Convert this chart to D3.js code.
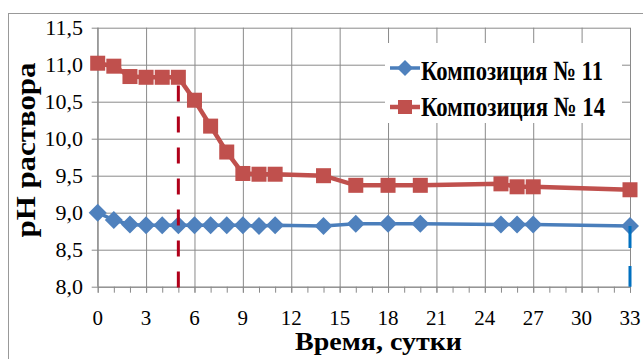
<!DOCTYPE html>
<html>
<head>
<meta charset="utf-8">
<script src="https://cdn.jsdelivr.net/npm/d3@7"></script>
<style>
  html, body { margin: 0; padding: 0; background: #fff; }
  svg { display: block; }
</style>
</head>
<body>
<svg id="chart" width="643" height="359" font-family="'Liberation Serif', 'Times New Roman', Times, serif"></svg>
<script>
// Time points, days
const days = [0, 1, 2, 3, 4, 5, 6, 7, 8, 9, 10, 11, 14, 16, 18, 20, 25, 26, 27, 33];
// pH of the solution, composition No. 11
const ph11 = [9.00, 8.90, 8.84, 8.83, 8.83, 8.83, 8.83, 8.83, 8.83, 8.83, 8.82, 8.83, 8.82, 8.85, 8.85, 8.85, 8.84, 8.84, 8.84, 8.82];
// pH of the solution, composition No. 14
const ph14 = [11.02, 10.98, 10.84, 10.83, 10.83, 10.83, 10.52, 10.17, 9.82, 9.53, 9.52, 9.52, 9.50, 9.37, 9.37, 9.37, 9.39, 9.35, 9.35, 9.31];
const seriesNames = ["Композиция № 11", "Композиция № 14"];
const xTicks = [0, 3, 6, 9, 12, 15, 18, 21, 24, 27, 30, 33];
const xMinor = d3.range(0, 34);
const yTicks = [8.0, 8.5, 9.0, 9.5, 10.0, 10.5, 11.0, 11.5];
// Dashed drop lines (day, pH where the line starts)
const dropRed = { day: 5, from: 10.72 };
const dropBlue = { day: 33, from: 8.82 };

const svg = d3.select("#chart");
const plotL = 97.7, plotR = 630, plotT = 27.7, plotB = 286.7;

const x = d3.scaleLinear().domain([0, 33]).range([plotL, plotR]);
const y = d3.scaleLinear().domain([8, 11.5]).range([plotB, plotT]);

const gridColor = "#8a8a8a";

// outer frame (top and left edges visible)
svg.append("rect")
  .attr("x", 8.5).attr("y", 13.5)
  .attr("width", 700).attr("height", 400)
  .attr("fill", "#fff").attr("stroke", "#999").attr("stroke-width", 1);

// horizontal gridlines + y ticks
const yAxis = svg.append("g")
  .attr("transform", `translate(${plotL},0)`)
  .call(d3.axisLeft(y).tickValues(yTicks).tickSizeOuter(0).tickFormat(""));
yAxis.select(".domain").remove();
yAxis.selectAll(".tick line").attr("x1", plotR - plotL).attr("x2", -6).attr("stroke", gridColor);

// vertical gridlines + x major ticks
const xAxis = svg.append("g")
  .attr("transform", `translate(0,${plotB})`)
  .call(d3.axisBottom(x).tickValues(xTicks).tickSizeOuter(0).tickFormat(""));
xAxis.select(".domain").remove();
xAxis.selectAll(".tick line").attr("y1", -(plotB - plotT)).attr("y2", 6).attr("stroke", gridColor);

// minor ticks on x axis
const xMinorAxis = svg.append("g")
  .attr("transform", `translate(0,${plotB})`)
  .call(d3.axisBottom(x).tickValues(xMinor).tickSize(6).tickSizeOuter(0).tickFormat(""));
xMinorAxis.select(".domain").attr("stroke", gridColor);
xMinorAxis.selectAll(".tick line").attr("stroke", gridColor);

// left axis line
svg.append("line")
  .attr("x1", plotL).attr("x2", plotL).attr("y1", plotT).attr("y2", plotB)
  .attr("stroke", gridColor);

// tick labels
const fmt = d3.format(".1f");
svg.append("g").selectAll("text").data(yTicks).join("text")
  .attr("x", 83).attr("y", d => y(d) + 7.5)
  .attr("text-anchor", "end")
  .attr("font-size", 22)
  .text(d => fmt(d).replace(".", ","));
svg.append("g").selectAll("text").data(xTicks).join("text")
  .attr("x", d => x(d)).attr("y", 325)
  .attr("text-anchor", "middle")
  .attr("font-size", 21)
  .text(d => d);

// legend box
const legend = svg.append("g");
legend.append("rect")
  .attr("x", 385).attr("y", 43).attr("width", 237).attr("height", 80)
  .attr("fill", "#fff");

const blue = "#4A7EBB", blueFill = "#4F81BD";
const red = "#C0504D", redFill = "#C0504D";

function diamondPath(s) {
  return `M0,${-s}L${s},0L0,${s}L${-s},0Z`;
}

// legend entries
legend.append("line").attr("x1", 390).attr("x2", 420).attr("y1", 68).attr("y2", 68)
  .attr("stroke", blue).attr("stroke-width", 3.5);
legend.append("path").attr("d", diamondPath(8)).attr("transform", "translate(405,68)").attr("fill", blueFill);
legend.append("text").attr("x", 421).attr("y", 80)
  .attr("font-size", 28).attr("font-weight", "bold")
  .attr("textLength", 182).attr("lengthAdjust", "spacingAndGlyphs")
  .text(seriesNames[0]);
legend.append("line").attr("x1", 390).attr("x2", 420).attr("y1", 107).attr("y2", 107)
  .attr("stroke", red).attr("stroke-width", 4.5);
legend.append("rect").attr("x", 398).attr("y", 100).attr("width", 14).attr("height", 14).attr("fill", redFill);
legend.append("text").attr("x", 421).attr("y", 116)
  .attr("font-size", 28).attr("font-weight", "bold")
  .attr("textLength", 184).attr("lengthAdjust", "spacingAndGlyphs")
  .text(seriesNames[1]);

// series lines
const lineGen = d3.line().x((d, i) => x(days[i])).y(d => y(d));
svg.append("path").datum(ph11).attr("d", lineGen)
  .attr("fill", "none").attr("stroke", blue).attr("stroke-width", 3.5);
svg.append("path").datum(ph14).attr("d", lineGen)
  .attr("fill", "none").attr("stroke", red).attr("stroke-width", 4.5);

// markers
svg.append("g").selectAll("path").data(ph11).join("path")
  .attr("d", diamondPath(9))
  .attr("transform", (d, i) => `translate(${x(days[i])},${y(d)})`)
  .attr("fill", blueFill);
svg.append("g").selectAll("rect").data(ph14).join("rect")
  .attr("x", (d, i) => x(days[i]) - 7.5).attr("y", d => y(d) - 7.5)
  .attr("width", 15).attr("height", 15)
  .attr("fill", redFill);

// dashed drop lines
svg.append("line")
  .attr("x1", x(dropRed.day)).attr("x2", x(dropRed.day))
  .attr("y1", y(dropRed.from)).attr("y2", y(8) + 3)
  .attr("stroke", "#B0001A").attr("stroke-width", 3)
  .attr("stroke-dasharray", "16,15");
svg.append("line")
  .attr("x1", x(dropBlue.day)).attr("x2", x(dropBlue.day))
  .attr("y1", y(dropBlue.from)).attr("y2", y(8))
  .attr("stroke", "#0070C0").attr("stroke-width", 3)
  .attr("stroke-dasharray", "22,18");

// axis titles
svg.append("text")
  .attr("x", 295).attr("y", 350)
  .attr("font-size", 26).attr("font-weight", "bold")
  .attr("textLength", 167).attr("lengthAdjust", "spacingAndGlyphs")
  .text("Время, сутки");
svg.append("text")
  .attr("transform", "translate(35,150) rotate(-90)")
  .attr("text-anchor", "middle")
  .attr("font-size", 27).attr("font-weight", "bold")
  .attr("textLength", 175).attr("lengthAdjust", "spacingAndGlyphs")
  .text("pH раствора");
</script>
</body>
</html>
